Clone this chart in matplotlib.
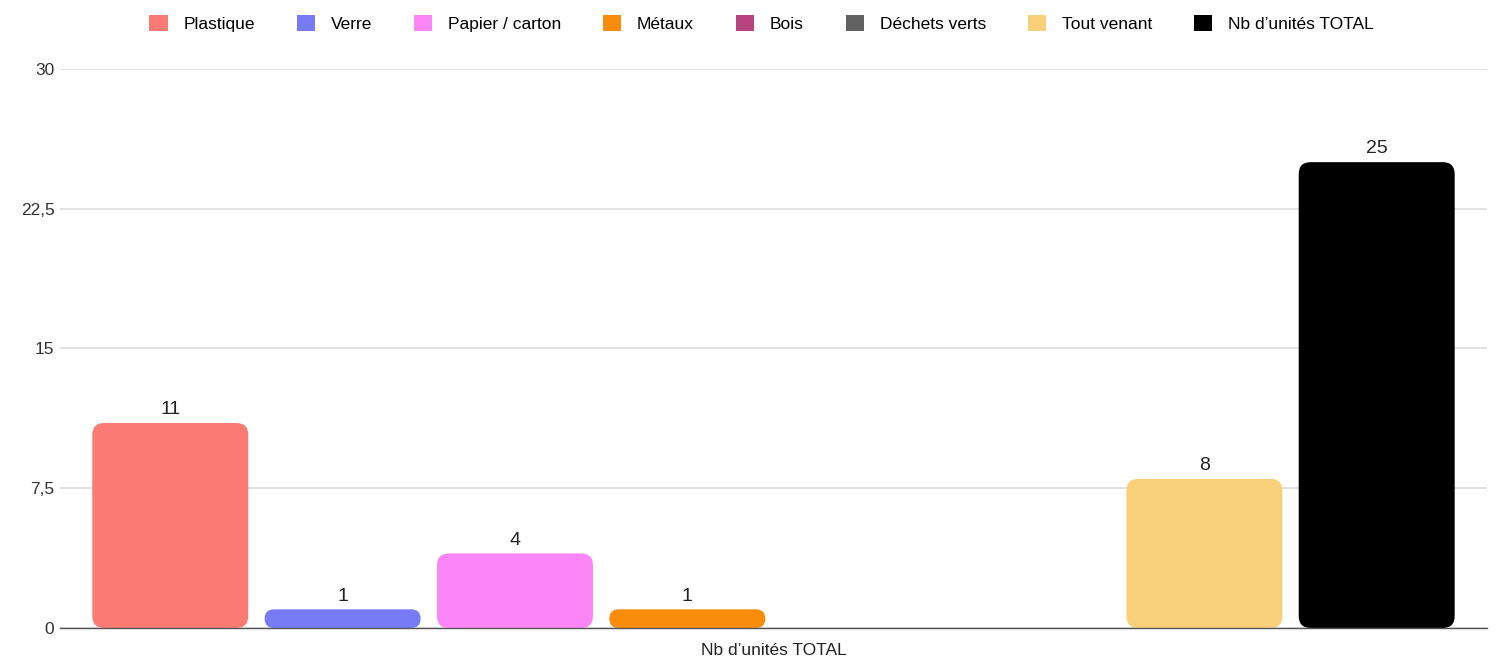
import matplotlib
matplotlib.use("Agg")
import matplotlib.pyplot as plt
from matplotlib.patches import FancyBboxPatch, Patch

plt.rcParams['font.family'] = ['Liberation Sans', 'DejaVu Sans']

category = "Nb d\u2019unités TOTAL"
series = ["Plastique", "Verre", "Papier / carton", "Métaux", "Bois",
          "Déchets verts", "Tout venant", "Nb d\u2019unités TOTAL"]
values = [11, 1, 4, 1, 0, 0, 8, 25]
colors = ["#FA7B73", "#777CF6", "#FC85F8", "#F98C0A", "#B8447F",
          "#626262", "#F8D07A", "#000000"]
yticks = [0, 7.5, 15, 22.5, 30]
ytick_labels = ["0", "7,5", "15", "22,5", "30"]

fig = plt.figure(figsize=(14.99, 6.62), dpi=100)
ax = fig.add_axes([0.040, 0.0514, 0.952, 0.8444])

pitch = 0.1
bw = 0.0905
n = len(series)
ax.set_xlim(-0.414, 0.414)
ax.set_ylim(0, 30)

# px per unit for rounding
ax_w_px = 0.952 * 1499
ax_h_px = 0.8444 * 662
px_x = ax_w_px / 0.828
px_y = ax_h_px / 30.0
r_px = 12
rx = r_px / px_x
aspect = (r_px / px_y) / rx

for i, (s, v, c) in enumerate(zip(series, values, colors)):
    xc = (i - (n - 1) / 2) * pitch
    bars = ax.bar(xc, v, width=bw, color=c, label=s, zorder=3)
    b = bars[0]
    b.set_visible(False)
    if v > 0:
        h = b.get_height()
        rad = min(rx, h / aspect / 2)
        p = FancyBboxPatch((b.get_x(), b.get_y()), b.get_width(), h,
                           boxstyle=f"round,pad=0,rounding_size={rad}",
                           mutation_aspect=aspect, facecolor=c,
                           edgecolor="none", zorder=3)
        ax.add_patch(p)
        ax.text(xc, v + 0.25, str(v), ha="center", va="bottom",
                fontsize=14, color="#222222", zorder=4)

ax.set_yticks(yticks)
ax.set_yticklabels(ytick_labels, fontsize=12.5, color="#333333")
ax.set_xticks([0])
ax.set_xticklabels([category], fontsize=12.5, color="#222222")
ax.tick_params(axis="both", length=0)
ax.tick_params(axis="x", pad=11)
ax.tick_params(axis="y", pad=4)
ax.grid(axis="y", color="#dcdcdc", linewidth=1.2, zorder=0)
ax.set_axisbelow(True)
for sp in ["top", "right", "left"]:
    ax.spines[sp].set_visible(False)
ax.spines["bottom"].set_color("#555555")
ax.spines["bottom"].set_linewidth(1.0)
ax.spines["bottom"].set_zorder(5)

handles = [Patch(facecolor=c, edgecolor="none") for c in colors]
fig.legend(handles, series, loc="upper center", bbox_to_anchor=(0.508, 1.0),
           ncol=n, frameon=False, fontsize=12.5, handlelength=1.05,
           handleheight=1.05, handletextpad=0.9, columnspacing=2.42,
           borderaxespad=0.45)

fig.savefig("out.png", dpi=100, facecolor="white")
